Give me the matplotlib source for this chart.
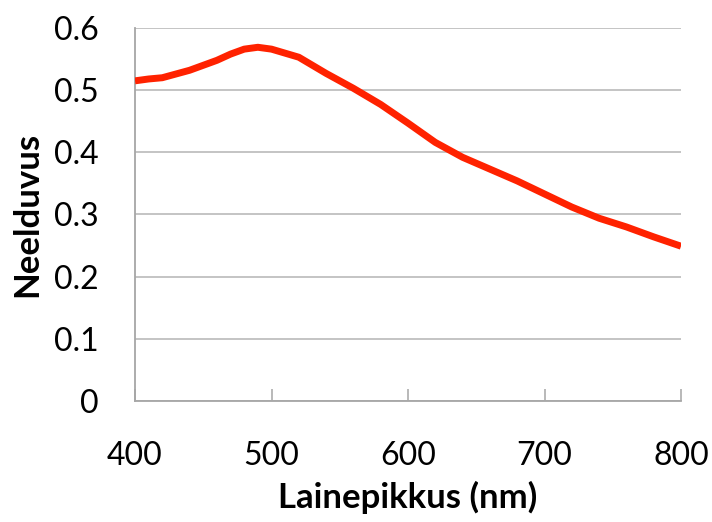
import matplotlib
matplotlib.use("Agg")
import matplotlib.pyplot as plt

wavelength = [400, 410, 420, 440, 460, 470, 480, 490, 500, 520, 540, 560, 580,
              600, 620, 640, 660, 680, 700, 720, 740, 760, 780, 800]
absorbance = [0.515, 0.518, 0.520, 0.532, 0.548, 0.558, 0.566, 0.569, 0.566,
              0.553, 0.527, 0.503, 0.477, 0.447, 0.416, 0.392, 0.373, 0.354,
              0.333, 0.312, 0.294, 0.280, 0.264, 0.249]
x_ticks = [400, 500, 600, 700, 800]
y_ticks = [0, 0.1, 0.2, 0.3, 0.4, 0.5, 0.6]
y_tick_labels = ["0", "0.1", "0.2", "0.3", "0.4", "0.5", "0.6"]

plt.rcParams['font.family'] = ['Lato', 'DejaVu Sans']

fig = plt.figure(figsize=(7.12, 5.22), dpi=100)
ax = fig.add_axes([135/712, 1-401/522, (681-135)/712, (401-28)/522])

ax.plot(wavelength, absorbance, color='#FF2200', lw=5, solid_capstyle='butt',
        solid_joinstyle='round', zorder=3)

ax.set_xlim(400, 800)
ax.set_ylim(0, 0.6)
ax.set_xticks(x_ticks)
ax.set_yticks(y_ticks)
ax.set_yticklabels(y_tick_labels)

ax.yaxis.grid(True, color='#BFBFBF', lw=1.3)
ax.set_axisbelow(True)
for s in ['top', 'right']:
    ax.spines[s].set_visible(False)
for s in ['left', 'bottom']:
    ax.spines[s].set_color('#A6A6A6')
    ax.spines[s].set_linewidth(1.3)

ax.tick_params(axis='x', direction='in', length=9, width=1.1, color='#A6A6A6',
               pad=29, labelsize=23)
ax.tick_params(axis='y', length=0, pad=26, labelsize=23)

ax.set_xlabel("Lainepikkus (nm)", fontsize=25, fontweight='bold', labelpad=7)
ax.set_ylabel("Neelduvus", fontsize=25, fontweight='bold', labelpad=8)

fig.savefig("out.png", dpi=100)
